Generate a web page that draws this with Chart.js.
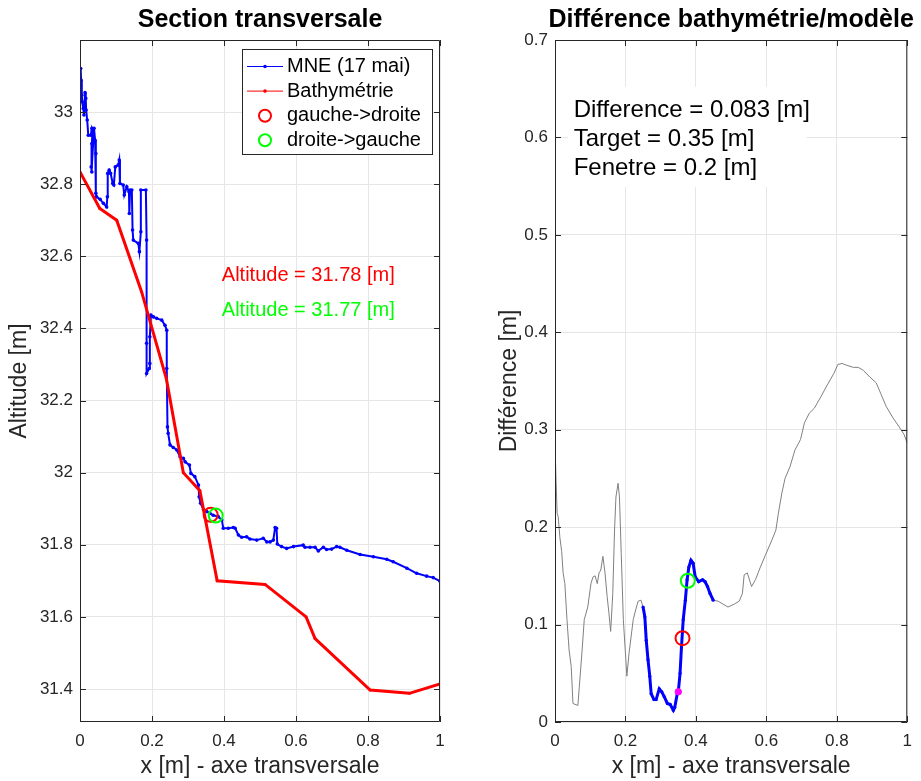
<!DOCTYPE html>
<html>
<head>
<meta charset="utf-8">
<title>Section transversale</title>
<script src="https://cdn.jsdelivr.net/npm/chart.js@4.4.1/dist/chart.umd.min.js"></script>
<style>
  body { margin: 0; background: #fff; width: 921px; height: 781px; overflow: hidden; position: relative; }
  canvas { position: absolute; top: 0; display: block; }
</style>
</head>
<body>
<canvas id="sectionChart" width="460" height="781" style="left:0"></canvas>
<canvas id="diffChart" width="461" height="781" style="left:460px"></canvas>
<script>
// MNE (17 mai) le long de l'axe transversal
const mneX = [0.002,0.003,0.005,0.006,0.009,0.011,0.014,0.016,0.017,0.020,
  0.023,0.030,0.033,0.035,0.033,0.031,0.033,0.037,0.039,0.042,
  0.044,0.044,0.046,0.056,0.065,0.074,0.076,0.077,0.081,0.085,
  0.091,0.094,0.098,0.106,0.109,0.111,0.120,0.123,0.130,0.136,
  0.137,0.139,0.144,0.146,0.148,0.162,0.165,0.169,0.169,0.183,
  0.185,0.185,0.185,0.192,0.194,0.194,0.197,0.204,0.213,0.227,
  0.236,0.241,0.241,0.243,0.245,0.250,0.259,0.269,0.278,0.287,
  0.292,0.304,0.308,0.319,0.329,0.331,0.335,0.343,0.352,0.361,
  0.370,0.384,0.394,0.398,0.412,0.426,0.431,0.440,0.449,0.463,
  0.472,0.491,0.509,0.519,0.528,0.537,0.542,0.546,0.548,0.560,
  0.574,0.593,0.620,0.625,0.639,0.653,0.662,0.676,0.685,0.699,
  0.713,0.722,0.741,0.778,0.815,0.852,0.870,0.908,0.935,0.963,
  0.981,1.000];
const mneY = [33.121,33.089,33.047,33.029,33.010,32.992,33.054,33.038,33.006,32.978,
  32.936,32.936,32.955,32.950,32.913,32.848,32.834,32.922,32.955,32.922,
  32.885,32.775,32.765,32.758,32.747,32.737,32.765,32.830,32.839,32.830,
  32.802,32.798,32.848,32.853,32.867,32.802,32.798,32.770,32.793,32.779,
  32.719,32.784,32.784,32.673,32.645,32.636,32.613,32.668,32.784,32.784,
  32.645,32.359,32.275,32.289,32.303,32.377,32.437,32.432,32.428,32.423,
  32.409,32.395,32.289,32.127,32.109,32.077,32.070,32.063,32.044,32.040,
  32.030,32.021,31.998,31.989,31.966,31.933,31.915,31.898,31.892,31.887,
  31.882,31.878,31.869,31.846,31.846,31.848,31.846,31.827,31.821,31.822,
  31.816,31.813,31.818,31.808,31.808,31.813,31.848,31.846,31.802,31.795,
  31.790,31.795,31.799,31.793,31.793,31.793,31.783,31.793,31.787,31.788,
  31.795,31.793,31.785,31.773,31.767,31.760,31.753,31.735,31.721,31.713,
  31.709,31.699];

// bathymétrie
const bathyX = [0, 0.055, 0.102, 0.171, 0.240, 0.287, 0.333, 0.381, 0.514, 0.628, 0.653, 0.806, 0.915, 1.0];
const bathyY = [32.834, 32.733, 32.700, 32.502, 32.260, 32.000, 31.950, 31.700, 31.690, 31.600, 31.540, 31.397, 31.388, 31.414];

// croisements sur la section
const gdSectionX = [0.363];
const gdSectionY = [31.883];
const dgSectionX = [0.377];
const dgSectionY = [31.881];
const altGD = 31.78;
const altDG = 31.77;

// différence bathymétrie/modèle
const diffX = [0,0.003,0.006,0.009,0.014,0.019,0.023,0.028,0.034,0.040,
  0.046,0.051,0.065,0.069,0.077,0.083,0.093,0.102,0.108,0.114,
  0.120,0.125,0.130,0.136,0.142,0.148,0.153,0.158,0.164,0.169,
  0.173,0.179,0.183,0.188,0.194,0.204,0.210,0.222,0.229,0.236,
  0.244,0.250,0.255,0.259,0.264,0.269,0.273,0.281,0.287,0.296,
  0.303,0.310,0.319,0.327,0.336,0.340,0.347,0.350,0.355,0.359,
  0.364,0.370,0.375,0.380,0.386,0.392,0.398,0.408,0.419,0.426,
  0.433,0.440,0.449,0.463,0.491,0.509,0.523,0.532,0.537,0.546,
  0.558,0.569,0.583,0.597,0.616,0.627,0.634,0.644,0.653,0.667,
  0.681,0.697,0.708,0.722,0.736,0.755,0.773,0.792,0.803,0.815,
  0.829,0.847,0.861,0.875,0.894,0.912,0.926,0.940,0.958,0.977,
  0.991,1.000];
const diffY = [0.286,0.248,0.214,0.211,0.189,0.175,0.153,0.142,0.105,0.074,
  0.057,0.019,0.017,0.036,0.074,0.105,0.118,0.142,0.149,0.150,
  0.142,0.153,0.156,0.170,0.153,0.129,0.112,0.093,0.132,0.197,
  0.231,0.245,0.231,0.173,0.105,0.047,0.070,0.105,0.115,0.124,
  0.125,0.118,0.108,0.084,0.064,0.047,0.029,0.023,0.023,0.034,
  0.031,0.026,0.019,0.018,0.012,0.015,0.029,0.031,0.050,0.077,
  0.105,0.125,0.146,0.159,0.166,0.163,0.149,0.144,0.146,0.144,
  0.139,0.132,0.125,0.124,0.118,0.121,0.124,0.132,0.151,0.153,
  0.139,0.146,0.159,0.171,0.187,0.197,0.214,0.235,0.250,0.262,
  0.279,0.290,0.307,0.317,0.322,0.334,0.346,0.358,0.367,0.368,
  0.366,0.364,0.364,0.361,0.354,0.348,0.336,0.324,0.313,0.303,
  0.295,0.286];

const gdDiffX = [0.362];
const gdDiffY = [0.086];
const dgDiffX = [0.377];
const dgDiffY = [0.145];
const difference = 0.083;
const target = 0.35;
const fenetre = 0.2;

// graduations
const xTicks = [0, 0.2, 0.4, 0.6, 0.8, 1];
const altTicks = [31.4, 31.6, 31.8, 32, 32.2, 32.4, 32.6, 32.8, 33];
const diffTicks = [0, 0.1, 0.2, 0.3, 0.4, 0.5, 0.6, 0.7];

const FONT = '"Liberation Sans", Arial, Helvetica, sans-serif';
Chart.defaults.font.family = FONT;
Chart.defaults.color = '#262626';
Chart.defaults.animation = false;

const toPoints = (xs, ys) => xs.map((x, i) => ({ x: x, y: ys[i] }));
const fmt = v => String(+v.toFixed(2));

const diffPoints = toPoints(diffX, diffY);
const windowPoints = diffPoints.filter(p => Math.abs(p.x - target) <= fenetre / 2 + 1e-9);
const targetPoint = diffPoints.filter(p => p.x === target);

function fixedTicks(values) {
  return scale => { scale.ticks = values.map(v => ({ value: v })); };
}

function xScale() {
  return {
    type: 'linear', min: 0, max: 1,
    afterBuildTicks: fixedTicks(xTicks),
    afterFit: s => { s.height = 59; },
    grid: { color: '#e6e6e6', drawTicks: false },
    border: { display: false },
    ticks: { padding: 9, font: { size: 17 }, callback: fmt, maxRotation: 0, autoSkip: false },
    title: { display: true, text: 'x [m] - axe transversale', color: '#262626', font: { size: 23 }, padding: { top: 0, bottom: 1 } }
  };
}

function yScale(min, max, values, text, width, titleTop) {
  return {
    type: 'linear', min: min, max: max,
    afterBuildTicks: fixedTicks(values),
    afterFit: s => { s.width = width; },
    grid: { color: '#e6e6e6', drawTicks: false },
    border: { display: false },
    ticks: { padding: 7, font: { size: 17 }, callback: fmt, autoSkip: false },
    title: { display: true, text: text, color: '#262626', font: { size: 23 }, padding: { top: titleTop, bottom: 0 } }
  };
}

// cadre complet + graduations intérieures
const frame = {
  id: 'frame',
  afterDatasetsDraw(chart) {
    const { ctx, chartArea: a, scales } = chart;
    ctx.save();
    ctx.strokeStyle = '#262626';
    ctx.lineWidth = 1;
    ctx.beginPath();
    scales.x.ticks.forEach(t => {
      const px = Math.round(scales.x.getPixelForValue(t.value)) + 0.5;
      ctx.moveTo(px, a.bottom); ctx.lineTo(px, a.bottom - 6);
      ctx.moveTo(px, a.top); ctx.lineTo(px, a.top + 6);
    });
    scales.y.ticks.forEach(t => {
      const py = Math.round(scales.y.getPixelForValue(t.value)) + 0.5;
      ctx.moveTo(a.left, py); ctx.lineTo(a.left + 6, py);
      ctx.moveTo(a.right, py); ctx.lineTo(a.right - 6, py);
    });
    ctx.rect(a.left + 0.5, a.top + 0.5, a.right - a.left - 1, a.bottom - a.top - 1);
    ctx.stroke();
    ctx.restore();
  }
};

// titre centré sur la zone de tracé
const heading = {
  id: 'heading',
  afterDraw(chart, args, opts) {
    const { ctx, chartArea: a } = chart;
    ctx.save();
    ctx.font = 'bold 25px ' + FONT;
    ctx.fillStyle = '#000';
    ctx.textAlign = 'center';
    ctx.textBaseline = 'middle';
    ctx.fillText(opts.text, (a.left + a.right) / 2, opts.y);
    ctx.restore();
  }
};

// légende encadrée dans le graphe
const boxLegend = {
  id: 'boxLegend',
  afterDraw(chart, args, opts) {
    if (!opts.display) return;
    const { ctx } = chart;
    const { left, top, width, height, rowStart, rowGap } = opts;
    ctx.save();
    ctx.fillStyle = '#fff';
    ctx.fillRect(left, top, width, height);
    ctx.strokeStyle = '#262626';
    ctx.lineWidth = 1;
    ctx.strokeRect(left + 0.5, top + 0.5, width, height);
    ctx.font = '20px ' + FONT;
    ctx.textBaseline = 'middle';
    chart.data.datasets.forEach((ds, i) => {
      const y = top + rowStart + i * rowGap;
      if (ds.showLine) {
        ctx.strokeStyle = ds.borderColor;
        ctx.lineWidth = 1;
        ctx.beginPath();
        ctx.moveTo(left + 5, y); ctx.lineTo(left + 41, y);
        ctx.stroke();
        ctx.fillStyle = ds.borderColor;
        ctx.beginPath();
        ctx.arc(left + 23, y, 1.8, 0, Math.PI * 2);
        ctx.fill();
      } else {
        ctx.strokeStyle = ds.borderColor;
        ctx.lineWidth = 2;
        ctx.beginPath();
        ctx.arc(left + 23, y, 6, 0, Math.PI * 2);
        ctx.stroke();
      }
      ctx.fillStyle = '#000';
      ctx.fillText(ds.label, left + 45, y);
    });
    ctx.restore();
  }
};

// textes placés en coordonnées des axes
const notes = {
  id: 'notes',
  afterDraw(chart, args, opts) {
    const { ctx, scales: { x, y } } = chart;
    ctx.save();
    if (opts.box) {
      const b = opts.box;
      const x0 = x.getPixelForValue(b.x0), x1 = x.getPixelForValue(b.x1);
      const y0 = y.getPixelForValue(b.y0), y1 = y.getPixelForValue(b.y1);
      ctx.fillStyle = '#fff';
      ctx.fillRect(x0, y0, x1 - x0, y1 - y0);
    }
    (opts.items || []).forEach(n => {
      ctx.font = n.size + 'px ' + FONT;
      ctx.fillStyle = n.color;
      ctx.textAlign = 'left';
      ctx.textBaseline = 'middle';
      ctx.fillText(n.text, x.getPixelForValue(n.x), y.getPixelForValue(n.y));
    });
    ctx.restore();
  }
};

new Chart(document.getElementById('sectionChart'), {
  type: 'scatter',
  data: {
    datasets: [{
      label: 'MNE (17 mai)',
      data: toPoints(mneX, mneY),
      showLine: true,
      borderColor: '#0000ff',
      backgroundColor: '#0000ff',
      borderWidth: 2,
      pointRadius: 1.8,
      pointBorderWidth: 0,
      order: 3
    }, {
      label: 'Bathymétrie',
      data: toPoints(bathyX, bathyY),
      showLine: true,
      borderColor: '#ff0000',
      backgroundColor: '#ff0000',
      borderWidth: 3,
      pointRadius: 1.5,
      pointBorderWidth: 0,
      order: 2
    }, {
      label: 'gauche->droite',
      data: toPoints(gdSectionX, gdSectionY),
      showLine: false,
      borderColor: '#ff0000',
      backgroundColor: 'rgba(0,0,0,0)',
      borderWidth: 2,
      pointRadius: 7,
      order: 1
    }, {
      label: 'droite->gauche',
      data: toPoints(dgSectionX, dgSectionY),
      showLine: false,
      borderColor: '#00ff00',
      backgroundColor: 'rgba(0,0,0,0)',
      borderWidth: 2,
      pointRadius: 7,
      order: 0
    }]
  },
  options: {
    responsive: false,
    layout: { padding: { top: 40, right: 20, bottom: 0, left: 0 } },
    scales: {
      x: xScale(),
      y: yScale(31.3085, 33.2, altTicks, 'Altitude [m]', 80, 6)
    },
    plugins: {
      legend: { display: false },
      tooltip: { enabled: false },
      heading: { text: 'Section transversale', y: 20 },
      boxLegend: { display: true, left: 242, top: 49, width: 190, height: 105, rowStart: 17.5, rowGap: 24.6 },
      notes: {
        items: [
          { text: 'Altitude = ' + altGD.toFixed(2) + ' [m]', color: '#ff0000', size: 20, x: 0.394, y: 32.548 },
          { text: 'Altitude = ' + altDG.toFixed(2) + ' [m]', color: '#00ff00', size: 20, x: 0.394, y: 32.451 }
        ]
      }
    }
  },
  plugins: [frame, heading, boxLegend, notes]
});

new Chart(document.getElementById('diffChart'), {
  type: 'scatter',
  data: {
    datasets: [{
      label: 'différence',
      data: diffPoints,
      showLine: true,
      borderColor: '#808080',
      borderWidth: 1,
      pointRadius: 0,
      order: 5
    }, {
      label: 'fenêtre',
      data: windowPoints,
      showLine: true,
      borderColor: '#0000ff',
      backgroundColor: '#0000ff',
      borderWidth: 3,
      pointRadius: 1.6,
      pointBorderWidth: 0,
      order: 4
    }, {
      label: 'target',
      data: targetPoint,
      showLine: false,
      backgroundColor: '#ff00ff',
      borderColor: '#ff00ff',
      pointRadius: 3.2,
      order: 3
    }, {
      label: 'gauche->droite',
      data: toPoints(gdDiffX, gdDiffY),
      showLine: false,
      borderColor: '#ff0000',
      backgroundColor: 'rgba(0,0,0,0)',
      borderWidth: 2,
      pointRadius: 7,
      order: 2
    }, {
      label: 'droite->gauche',
      data: toPoints(dgDiffX, dgDiffY),
      showLine: false,
      borderColor: '#00ff00',
      backgroundColor: 'rgba(0,0,0,0)',
      borderWidth: 2,
      pointRadius: 7,
      order: 1
    }]
  },
  options: {
    responsive: false,
    layout: { padding: { top: 40, right: 6, bottom: 0, left: 0 } },
    scales: {
      x: xScale(),
      y: yScale(0, 0.7, diffTicks, 'Différence [m]', 95, 36)
    },
    plugins: {
      legend: { display: false },
      tooltip: { enabled: false },
      heading: { text: 'Différence bathymétrie/modèle', y: 20 },
      boxLegend: { display: false },
      notes: {
        box: { x0: 0.036, y0: 0.652, x1: 0.714, y1: 0.549 },
        items: [
          { text: 'Difference = ' + difference + ' [m]', color: '#000', size: 24, x: 0.053, y: 0.628 },
          { text: 'Target = ' + target + ' [m]', color: '#000', size: 24, x: 0.053, y: 0.598 },
          { text: 'Fenetre = ' + fenetre + ' [m]', color: '#000', size: 24, x: 0.053, y: 0.568 }
        ]
      }
    }
  },
  plugins: [frame, heading, boxLegend, notes]
});
</script>
</body>
</html>
